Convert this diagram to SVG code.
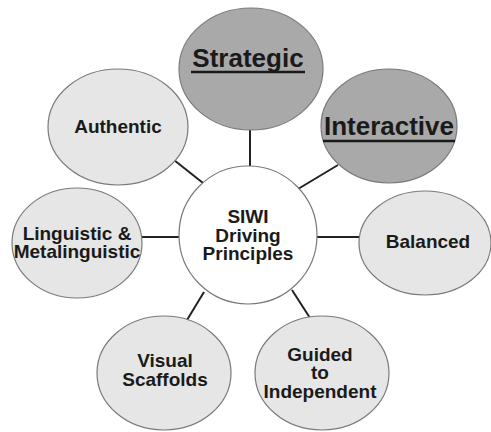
<svg xmlns="http://www.w3.org/2000/svg" width="491" height="432" viewBox="0 0 491 432">
<style>
.n{stroke:#7a7a7a;stroke-width:1.2}
.lt{fill:#e6e6e6}
.dk{fill:#a9a9a9}
.c{fill:#ffffff}
.t{font-family:"Liberation Sans",Arial,sans-serif;font-weight:bold;font-size:19px;fill:#1a1a1a;text-anchor:middle}
.big{font-size:26px}
.ul{stroke:#1a1a1a;stroke-width:2.5}
.e{stroke:#222;stroke-width:2;fill:none}
</style>
<rect width="491" height="432" fill="#ffffff"/>
<g id="connectors">
<line class="e" x1="250" y1="130" x2="250" y2="166"/>
<line class="e" x1="174" y1="160" x2="203" y2="183"/>
<line class="e" x1="338" y1="165" x2="298" y2="189"/>
<line class="e" x1="142" y1="237" x2="179" y2="237"/>
<line class="e" x1="317" y1="237" x2="359" y2="237"/>
<line class="e" x1="204" y1="292" x2="187" y2="320"/>
<line class="e" x1="292" y1="290" x2="310" y2="318"/>
</g>
<g id="center">
<circle class="n c" cx="248" cy="235" r="69"/>
<text class="t" x="248" y="223">SIWI</text>
<text class="t" x="248" y="242">Driving</text>
<text class="t" x="248" y="260">Principles</text>
</g>
<g id="strategic">
<ellipse class="n dk" cx="251" cy="69" rx="72" ry="61"/>
<text class="t big" x="248" y="67">Strategic</text>
<line class="ul" x1="191" y1="72" x2="305" y2="72"/>
</g>
<g id="interactive">
<ellipse class="n dk" cx="389" cy="126" rx="68" ry="57"/>
<text class="t big" x="389" y="135">Interactive</text>
<line class="ul" x1="323" y1="141" x2="455" y2="141"/>
</g>
<g id="authentic">
<ellipse class="n lt" cx="118" cy="127" rx="70" ry="58"/>
<text class="t" x="118" y="133">Authentic</text>
</g>
<g id="linguistic">
<ellipse class="n lt" cx="77" cy="243" rx="65" ry="55"/>
<text class="t" x="77" y="240">Linguistic &amp;</text>
<text class="t" x="77" y="258">Metalinguistic</text>
</g>
<g id="balanced">
<ellipse class="n lt" cx="425" cy="243" rx="66" ry="52"/>
<text class="t" x="428" y="248">Balanced</text>
</g>
<g id="visual">
<ellipse class="n lt" cx="164" cy="373" rx="67" ry="57"/>
<text class="t" x="165" y="367">Visual</text>
<text class="t" x="165" y="386">Scaffolds</text>
</g>
<g id="guided">
<ellipse class="n lt" cx="322" cy="373" rx="67" ry="57"/>
<text class="t" x="320" y="361">Guided</text>
<text class="t" x="320" y="379">to</text>
<text class="t" x="320" y="398">Independent</text>
</g>
</svg>
